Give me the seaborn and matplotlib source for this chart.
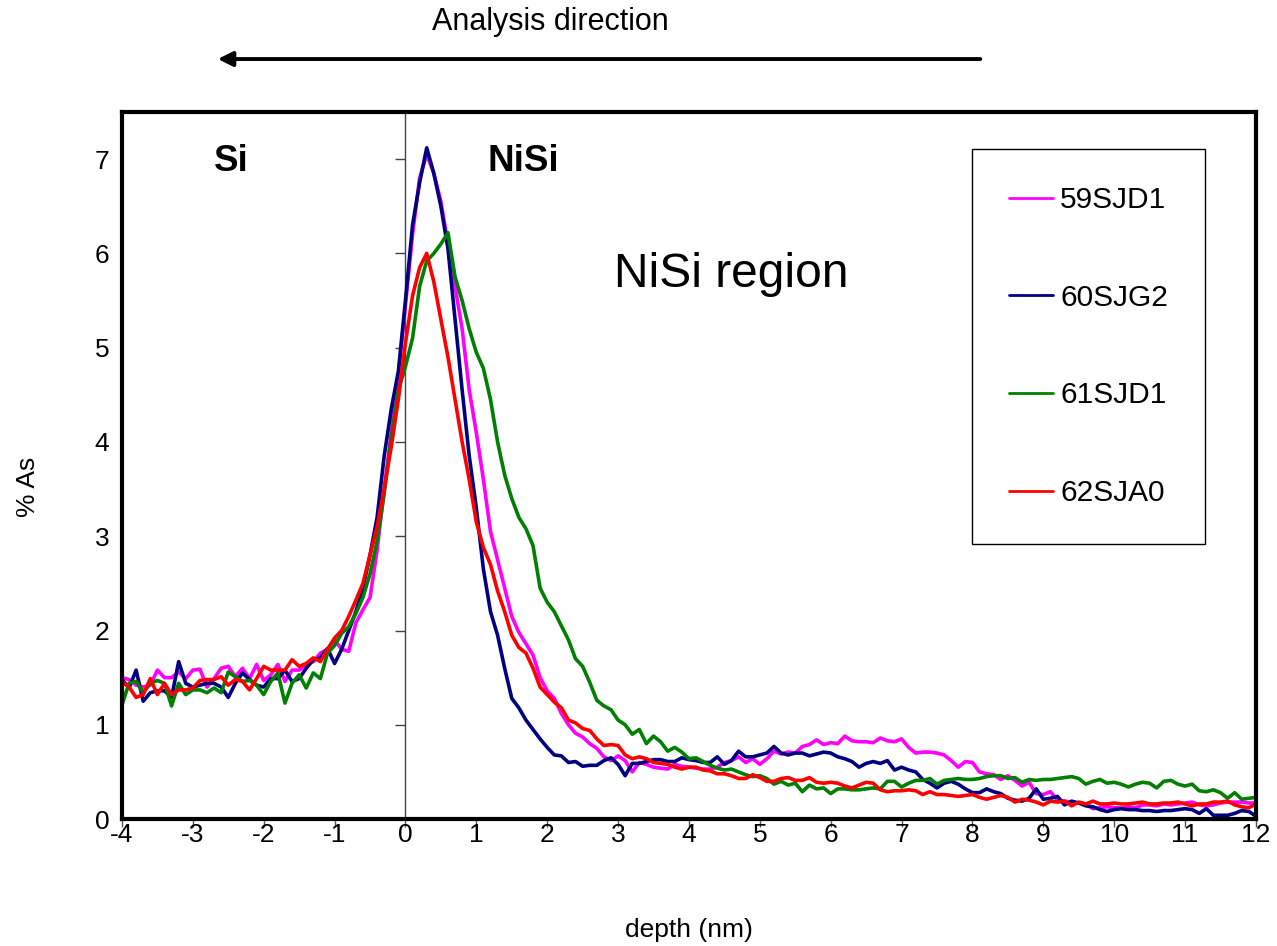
import numpy as np
import pandas as pd
import matplotlib
matplotlib.use('Agg')
import matplotlib.pyplot as plt
import seaborn as sns

# depth grid (nm), one point every 0.1 nm
depth = np.round(np.arange(-4.0, 12.05, 0.1), 1)

s59SJD1 = [
    1.50, 1.48, 1.42, 1.40, 1.42, 1.58, 1.50, 1.50, 1.56, 1.49,
    1.58, 1.59, 1.40, 1.49, 1.60, 1.62, 1.51, 1.60, 1.49, 1.64,
    1.47, 1.53, 1.64, 1.46, 1.58, 1.58, 1.64, 1.67, 1.76, 1.80,
    1.90, 1.80, 1.78, 2.08, 2.22, 2.35, 2.85, 3.50, 4.10, 4.70,
    5.45, 6.20, 6.80, 7.05, 6.85, 6.55, 6.10, 5.65, 5.20, 4.55,
    4.10, 3.60, 3.05, 2.75, 2.45, 2.15, 1.98, 1.86, 1.74, 1.50,
    1.36, 1.28, 1.12, 1.00, 0.91, 0.87, 0.80, 0.75, 0.66, 0.62,
    0.67, 0.62, 0.50, 0.60, 0.58, 0.55, 0.54, 0.53, 0.58, 0.56,
    0.55, 0.54, 0.53, 0.53, 0.55, 0.60, 0.62, 0.66, 0.60, 0.64,
    0.58, 0.64, 0.72, 0.69, 0.71, 0.70, 0.77, 0.79, 0.84, 0.79,
    0.81, 0.80, 0.88, 0.83, 0.82, 0.82, 0.81, 0.86, 0.83, 0.82,
    0.85, 0.76, 0.70, 0.71, 0.71, 0.70, 0.68, 0.62, 0.55, 0.61,
    0.60, 0.50, 0.48, 0.47, 0.42, 0.46, 0.41, 0.35, 0.39, 0.27,
    0.26, 0.29, 0.20, 0.19, 0.18, 0.17, 0.16, 0.11, 0.12, 0.13,
    0.12, 0.12, 0.13, 0.12, 0.15, 0.15, 0.14, 0.16, 0.15, 0.16,
    0.17, 0.18, 0.15, 0.14, 0.15, 0.17, 0.18, 0.18, 0.18, 0.17,
    0.17]

s60SJG2 = [
    1.48, 1.39, 1.58, 1.25, 1.34, 1.36, 1.36, 1.29, 1.67, 1.44,
    1.40, 1.42, 1.44, 1.44, 1.40, 1.29, 1.44, 1.55, 1.48, 1.42,
    1.40, 1.49, 1.49, 1.58, 1.46, 1.49, 1.60, 1.69, 1.71, 1.81,
    1.65, 1.80, 2.00, 2.20, 2.45, 2.80, 3.20, 3.85, 4.35, 4.75,
    5.50, 6.30, 6.75, 7.12, 6.85, 6.50, 6.05, 5.30, 4.55, 3.85,
    3.30, 2.65, 2.20, 1.95, 1.60, 1.28, 1.18, 1.05, 0.95, 0.85,
    0.76, 0.68, 0.67, 0.60, 0.61, 0.56, 0.57, 0.57, 0.62, 0.65,
    0.58, 0.46, 0.59, 0.59, 0.61, 0.63, 0.63, 0.61, 0.61, 0.65,
    0.63, 0.62, 0.60, 0.60, 0.66, 0.58, 0.62, 0.72, 0.66, 0.66,
    0.68, 0.70, 0.77, 0.70, 0.68, 0.70, 0.70, 0.67, 0.69, 0.71,
    0.70, 0.66, 0.64, 0.61, 0.55, 0.59, 0.61, 0.59, 0.62, 0.52,
    0.55, 0.52, 0.50, 0.42, 0.38, 0.33, 0.38, 0.40, 0.37, 0.32,
    0.28, 0.28, 0.32, 0.29, 0.27, 0.22, 0.20, 0.19, 0.22, 0.32,
    0.21, 0.22, 0.24, 0.15, 0.19, 0.17, 0.14, 0.13, 0.10, 0.08,
    0.10, 0.11, 0.10, 0.10, 0.09, 0.09, 0.08, 0.09, 0.09, 0.10,
    0.11, 0.10, 0.06, 0.11, 0.04, 0.04, 0.04, 0.06, 0.09, 0.08,
    0.03]

s61SJD1 = [
    1.21, 1.44, 1.46, 1.34, 1.44, 1.47, 1.44, 1.20, 1.44, 1.32,
    1.37, 1.37, 1.34, 1.39, 1.34, 1.56, 1.51, 1.46, 1.47, 1.42,
    1.32, 1.46, 1.55, 1.23, 1.44, 1.53, 1.39, 1.55, 1.49, 1.76,
    1.84, 1.97, 2.04, 2.18, 2.35, 2.60, 2.95, 3.45, 4.05, 4.55,
    4.80, 5.10, 5.65, 5.92, 6.00, 6.10, 6.22, 5.75, 5.50, 5.20,
    4.95, 4.78, 4.45, 4.00, 3.65, 3.40, 3.20, 3.08, 2.90, 2.45,
    2.30, 2.20, 2.05, 1.90, 1.70, 1.62, 1.45, 1.26, 1.20, 1.16,
    1.05, 1.00, 0.90, 0.95, 0.80, 0.88, 0.82, 0.72, 0.76, 0.71,
    0.64, 0.65, 0.61, 0.57, 0.54, 0.52, 0.53, 0.50, 0.47, 0.45,
    0.46, 0.43, 0.37, 0.40, 0.36, 0.38, 0.29, 0.36, 0.32, 0.33,
    0.27, 0.32, 0.32, 0.31, 0.31, 0.32, 0.33, 0.32, 0.40, 0.40,
    0.34, 0.38, 0.41, 0.41, 0.43, 0.37, 0.41, 0.42, 0.43, 0.42,
    0.42, 0.43, 0.45, 0.46, 0.46, 0.43, 0.44, 0.39, 0.42, 0.41,
    0.42, 0.42, 0.43, 0.44, 0.45, 0.43, 0.37, 0.40, 0.42, 0.38,
    0.39, 0.37, 0.34, 0.37, 0.39, 0.38, 0.33, 0.40, 0.41, 0.37,
    0.35, 0.37, 0.30, 0.29, 0.31, 0.28, 0.22, 0.28, 0.21, 0.22,
    0.23]

s62SJA0 = [
    1.46, 1.40, 1.29, 1.32, 1.49, 1.32, 1.44, 1.32, 1.37, 1.37,
    1.39, 1.47, 1.48, 1.48, 1.51, 1.42, 1.48, 1.46, 1.37, 1.49,
    1.62, 1.58, 1.58, 1.58, 1.69, 1.62, 1.65, 1.71, 1.67, 1.80,
    1.92, 2.00, 2.15, 2.32, 2.50, 2.80, 3.10, 3.50, 3.95, 4.45,
    5.05, 5.55, 5.85, 6.00, 5.70, 5.30, 4.90, 4.45, 4.00, 3.60,
    3.15, 2.88, 2.70, 2.42, 2.20, 1.95, 1.82, 1.76, 1.60, 1.40,
    1.32, 1.24, 1.18, 1.05, 1.02, 0.96, 0.94, 0.85, 0.78, 0.79,
    0.78, 0.68, 0.64, 0.66, 0.64, 0.60, 0.59, 0.58, 0.55, 0.53,
    0.55, 0.55, 0.52, 0.51, 0.48, 0.48, 0.46, 0.43, 0.43, 0.47,
    0.44, 0.40, 0.40, 0.43, 0.44, 0.41, 0.41, 0.44, 0.39, 0.38,
    0.39, 0.38, 0.35, 0.33, 0.36, 0.39, 0.38, 0.31, 0.29, 0.30,
    0.30, 0.31, 0.30, 0.26, 0.29, 0.26, 0.26, 0.25, 0.24, 0.25,
    0.26, 0.23, 0.21, 0.23, 0.25, 0.23, 0.18, 0.21, 0.20, 0.18,
    0.15, 0.19, 0.18, 0.19, 0.14, 0.18, 0.16, 0.19, 0.16, 0.16,
    0.17, 0.16, 0.16, 0.17, 0.18, 0.16, 0.16, 0.17, 0.17, 0.18,
    0.16, 0.14, 0.16, 0.16, 0.18, 0.18, 0.19, 0.15, 0.13, 0.12,
    0.16]

samples = ['59SJD1', '60SJG2', '61SJD1', '62SJA0']
colors = {'59SJD1': '#FF00FF', '60SJG2': '#000080',
          '61SJD1': '#008000', '62SJA0': '#FF0000'}

df = pd.concat([
    pd.DataFrame({'depth': depth, 'As': vals, 'sample': name})
    for name, vals in zip(samples, [s59SJD1, s60SJG2, s61SJD1, s62SJA0])
], ignore_index=True)

sns.set_style('white')
plt.rcParams['font.family'] = ['Liberation Sans', 'DejaVu Sans']
plt.rcParams['axes.unicode_minus'] = False
plt.rcParams['text.color'] = 'black'
plt.rcParams['axes.labelcolor'] = 'black'
plt.rcParams['xtick.color'] = 'black'
plt.rcParams['ytick.color'] = 'black'

fig = plt.figure(figsize=(12.77, 9.46), dpi=100)
ax = fig.add_axes([0.0955, 0.1342, 0.8880, 0.7474])

sns.lineplot(data=df, x='depth', y='As', hue='sample', hue_order=samples,
             palette=colors, linewidth=2.6, estimator=None, sort=False, ax=ax)

ax.set_xlim(-4, 12)
ax.set_ylim(0, 7.5)
ax.set_xticks(range(-4, 13))
ax.set_yticks(range(0, 8))

for side in ['left', 'right', 'top', 'bottom']:
    ax.spines[side].set_visible(True)
    ax.spines[side].set_linewidth(3)
    ax.spines[side].set_color('black')

ax.tick_params(axis='x', direction='out', length=6, width=1, color='#555555',
               labelcolor='black', labelsize=19, pad=-3, bottom=True)
ax.tick_params(axis='y', length=0, labelsize=19, labelcolor='black', pad=9)

ax.set_xlabel('depth (nm)', fontsize=19, va='center')
ax.xaxis.set_label_coords(0.5, -0.157)
ax.set_ylabel('% As', fontsize=19, va='center')
ax.yaxis.set_label_coords(-0.083, 0.47)

# vertical axis drawn at depth = 0
ax2 = ax.twinx()
ax2.set_ylim(0, 7.5)
ax2.set_yticks(range(0, 8))
for side in ['right', 'top', 'bottom']:
    ax2.spines[side].set_visible(False)
ax2.spines['left'].set_visible(True)
ax2.spines['left'].set_position(('data', 0))
ax2.spines['left'].set_linewidth(1)
ax2.spines['left'].set_color('#444444')
ax2.yaxis.tick_left()
ax2.tick_params(axis='y', direction='out', length=7, width=1, color='#444444',
                labelleft=False, labelright=False)
ax.set_zorder(ax2.get_zorder() + 1)
ax.patch.set_visible(False)

ax.text(-2.45, 6.98, 'Si', fontsize=26.5, fontweight='bold', ha='center', va='center')
ax.text(1.66, 6.98, 'NiSi', fontsize=26.5, fontweight='bold', ha='center', va='center')
ax.text(4.59, 5.78, 'NiSi region', fontsize=34.5, ha='center', va='center')

leg = ax.legend(loc='upper left', bbox_to_anchor=(0.7496, 0.9477), fontsize=21.5,
                frameon=True, fancybox=False, edgecolor='black', framealpha=1,
                labelspacing=2.33, borderpad=1.25, handlelength=1.45,
                handletextpad=0.25, borderaxespad=0)
leg.get_frame().set_linewidth(1)
for line in leg.get_lines():
    line.set_linewidth(2)

# analysis direction arrow above the plot
fig.text(0.4307, 0.9767, 'Analysis direction', fontsize=22,
         ha='center', va='center')
ax.annotate('', xy=(0.1684, 0.9376), xytext=(0.7698, 0.9376),
            xycoords='figure fraction', textcoords='figure fraction',
            arrowprops=dict(arrowstyle='-|>', lw=2.8, color='black',
                            mutation_scale=22))

fig.savefig('out.png', dpi=100)
plt.close(fig)
